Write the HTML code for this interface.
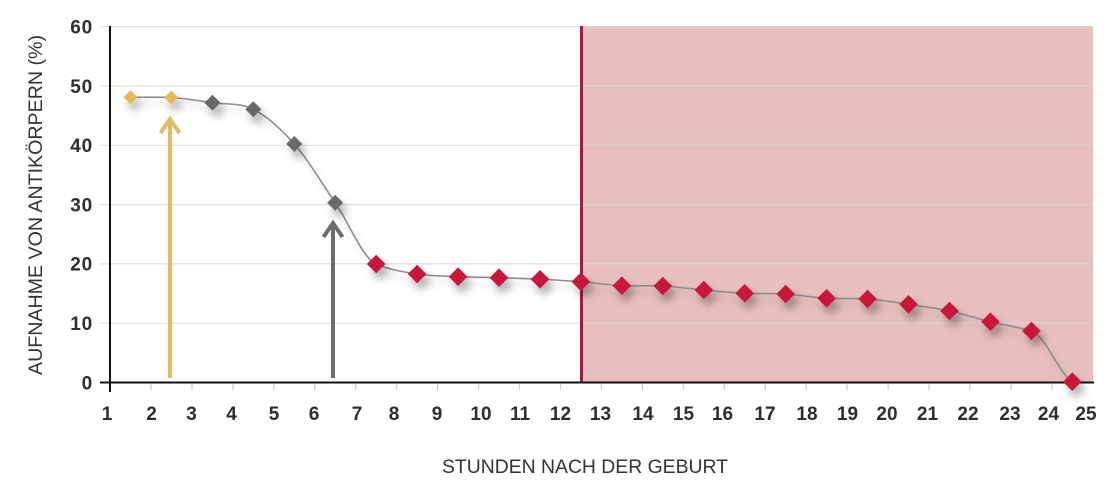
<!DOCTYPE html>
<html>
<head>
<meta charset="utf-8">
<style>
  html, body { margin: 0; padding: 0; background: #ffffff; }
  body { width: 1120px; height: 487px; overflow: hidden; }
  svg { display: block; }
  .tick { font-family: "Liberation Sans", sans-serif; font-weight: bold; font-size: 19px; fill: #2e2e2e; }
  .ytick { letter-spacing: 0.8px; }
  .title { font-family: "Liberation Sans", sans-serif; font-size: 19px; fill: #333333; }
</style>
</head>
<body>
<svg width="1120" height="487" viewBox="0 0 1120 487" xmlns="http://www.w3.org/2000/svg">
  <defs>
    <filter id="sh" x="-60%" y="-60%" width="220%" height="220%">
      <feDropShadow dx="4" dy="7" stdDeviation="4.5" flood-color="#000" flood-opacity="0.32"/>
    </filter>
    <filter id="shl" x="-10%" y="-10%" width="120%" height="130%">
      <feDropShadow dx="3" dy="6" stdDeviation="4" flood-color="#000" flood-opacity="0.18"/>
    </filter>
  </defs>

  <rect x="0" y="0" width="1120" height="487" fill="#ffffff"/>

  <!-- pink zone -->
  <rect x="581" y="26" width="512" height="356.5" fill="#e7c0bd"/>

  <!-- gridlines -->
  <g stroke="#d9d9d9" stroke-width="1.2" opacity="0.8">
    <line x1="100" y1="26.7" x2="1093" y2="26.7"/>
    <line x1="100" y1="86" x2="1093" y2="86"/>
    <line x1="100" y1="145.3" x2="1093" y2="145.3"/>
    <line x1="100" y1="204.6" x2="1093" y2="204.6"/>
    <line x1="100" y1="263.9" x2="1093" y2="263.9"/>
    <line x1="100" y1="323.2" x2="1093" y2="323.2"/>
  </g>

  <!-- x ticks -->
  <g stroke="#cccccc" stroke-width="1.2">
    <line x1="151" y1="384" x2="151" y2="390"/>
    <line x1="192" y1="384" x2="192" y2="390"/>
    <line x1="233" y1="384" x2="233" y2="390"/>
    <line x1="273.8" y1="384" x2="273.8" y2="390"/>
    <line x1="314.8" y1="384" x2="314.8" y2="390"/>
    <line x1="355.7" y1="384" x2="355.7" y2="390"/>
    <line x1="396.7" y1="384" x2="396.7" y2="390"/>
    <line x1="437.6" y1="384" x2="437.6" y2="390"/>
    <line x1="478.6" y1="384" x2="478.6" y2="390"/>
    <line x1="519.5" y1="384" x2="519.5" y2="390"/>
    <line x1="560.5" y1="384" x2="560.5" y2="390"/>
    <line x1="601.4" y1="384" x2="601.4" y2="390"/>
    <line x1="642.4" y1="384" x2="642.4" y2="390"/>
    <line x1="683.3" y1="384" x2="683.3" y2="390"/>
    <line x1="724.3" y1="384" x2="724.3" y2="390"/>
    <line x1="765.2" y1="384" x2="765.2" y2="390"/>
    <line x1="806.2" y1="384" x2="806.2" y2="390"/>
    <line x1="847.1" y1="384" x2="847.1" y2="390"/>
    <line x1="888.1" y1="384" x2="888.1" y2="390"/>
    <line x1="929" y1="384" x2="929" y2="390"/>
    <line x1="970" y1="384" x2="970" y2="390"/>
    <line x1="1010.9" y1="384" x2="1010.9" y2="390"/>
    <line x1="1051.9" y1="384" x2="1051.9" y2="390"/>
  </g>

  <!-- red vertical line -->
  <line x1="581.5" y1="26" x2="581.5" y2="382" stroke="#b0163f" stroke-width="3"/>

  <!-- arrows -->
  <g fill="none" stroke="#e3bb62" stroke-width="4" stroke-linecap="butt">
    <line x1="170" y1="378" x2="170" y2="119"/>
    <polyline points="160.5,133 170,119 179.5,133" stroke-linejoin="miter"/>
  </g>
  <g fill="none" stroke="#6c6c6c" stroke-width="4">
    <line x1="333" y1="378" x2="333" y2="223"/>
    <polyline points="323.5,237 333,223 342.5,237"/>
  </g>

  <!-- data line -->
  <path filter="url(#shl)" fill="none" stroke="#8d8d8d" stroke-width="1.6"
    d="M130.5,97.3
       C144.2,97.3 157.8,97.0 171.4,97.5
       C185.1,98.4 198.8,100.7 212.4,102.7
       C226.1,104.7 239.6,102.4 253.3,109.3
       C267.0,116.2 280.6,128.4 294.3,144
       C308.0,159.6 321.6,182.7 335.2,202.7
       C348.9,222.7 362.5,258 376.2,264
       C389.9,270 403.4,271.9 417.1,274
       C430.8,276.1 444.4,276.1 458.1,276.7
       C471.8,277.3 485.3,277.3 499.0,277.7
       C512.7,278.1 526.3,278.6 540.0,279.3
       C553.7,280.0 567.2,280.6 580.9,281.7
       C594.6,282.8 608.2,285.0 621.9,285.7
       C635.6,286.4 649.1,285.3 662.8,286
       C676.5,286.7 690.1,288.8 703.8,290
       C717.5,291.2 731.0,292.6 744.7,293.3
       C758.4,294.0 772.0,293.2 785.7,294
       C799.4,294.8 812.9,297.5 826.6,298.3
       C840.3,299.1 853.9,298.0 867.6,299
       C881.3,300 894.8,302.3 908.5,304.3
       C922.2,306.3 935.8,308.1 949.5,311
       C963.2,313.9 976.7,318.4 990.4,321.7
       C1004.1,325.0 1017.7,327 1031.4,331
       C1045.1,335 1058.6,373 1072.3,381.7"/>

  <!-- axes -->
  <line x1="110" y1="26" x2="110" y2="392" stroke="#111111" stroke-width="2"/>
  <line x1="100" y1="382.5" x2="1094" y2="382.5" stroke="#111111" stroke-width="2"/>

  <!-- markers -->
  <g filter="url(#sh)">
    <g fill="#e4b85a">
      <polygon points="130.5,90.3 137.5,97.3 130.5,104.3 123.5,97.3"/>
      <polygon points="171.4,90.5 178.4,97.5 171.4,104.5 164.4,97.5"/>
    </g>
    <g fill="#696969">
      <polygon points="212.4,94.7 220.4,102.7 212.4,110.7 204.4,102.7"/>
      <polygon points="253.3,101.3 261.3,109.3 253.3,117.3 245.3,109.3"/>
      <polygon points="294.3,136 302.3,144 294.3,152 286.3,144"/>
      <polygon points="335.2,194.7 343.2,202.7 335.2,210.7 327.2,202.7"/>
    </g>
    <g fill="#c8133c">
      <polygon points="376.2,254.7 385.5,264 376.2,273.3 366.9,264"/>
      <polygon points="417.1,264.7 426.4,274 417.1,283.3 407.8,274"/>
      <polygon points="458.1,267.4 467.4,276.7 458.1,286 448.8,276.7"/>
      <polygon points="499.0,268.4 508.3,277.7 499.0,287 489.7,277.7"/>
      <polygon points="540.0,270 549.3,279.3 540.0,288.6 530.7,279.3"/>
      <polygon points="580.9,272.4 590.2,281.7 580.9,291 571.6,281.7"/>
      <polygon points="621.9,276.4 631.2,285.7 621.9,295 612.6,285.7"/>
      <polygon points="662.8,276.7 672.1,286 662.8,295.3 653.5,286"/>
      <polygon points="703.8,280.7 713.1,290 703.8,299.3 694.5,290"/>
      <polygon points="744.7,284 754,293.3 744.7,302.6 735.4,293.3"/>
      <polygon points="785.7,284.7 795,294 785.7,303.3 776.4,294"/>
      <polygon points="826.6,289 835.9,298.3 826.6,307.6 817.3,298.3"/>
      <polygon points="867.6,289.7 876.9,299 867.6,308.3 858.3,299"/>
      <polygon points="908.5,295 917.8,304.3 908.5,313.6 899.2,304.3"/>
      <polygon points="949.5,301.7 958.8,311 949.5,320.3 940.2,311"/>
      <polygon points="990.4,312.4 999.7,321.7 990.4,331 981.1,321.7"/>
      <polygon points="1031.4,321.7 1040.7,331 1031.4,340.3 1022.1,331"/>
      <polygon points="1072.3,372.4 1081.6,381.7 1072.3,391 1063,381.7"/>
    </g>
  </g>

  <!-- y tick labels -->
  <g class="tick ytick" text-anchor="end">
    <text x="93" y="33.5">60</text>
    <text x="93" y="92.8">50</text>
    <text x="93" y="152.1">40</text>
    <text x="93" y="211.4">30</text>
    <text x="93" y="270.7">20</text>
    <text x="93" y="330">10</text>
    <text x="93" y="389.3">0</text>
  </g>

  <!-- x tick labels -->
  <g class="tick" text-anchor="middle">
    <text x="107" y="420">1</text>
    <text x="151.5" y="420">2</text>
    <text x="191.5" y="420">3</text>
    <text x="231.5" y="420">4</text>
    <text x="274" y="420">5</text>
    <text x="314" y="420">6</text>
    <text x="357" y="420">7</text>
    <text x="394" y="420">8</text>
    <text x="437" y="420">9</text>
    <text x="481" y="420">10</text>
    <text x="520" y="420">11</text>
    <text x="560.5" y="420">12</text>
    <text x="600.5" y="420">13</text>
    <text x="643" y="420">14</text>
    <text x="683.5" y="420">15</text>
    <text x="722.5" y="420">16</text>
    <text x="765" y="420">17</text>
    <text x="807" y="420">18</text>
    <text x="847.5" y="420">19</text>
    <text x="887" y="420">20</text>
    <text x="927.5" y="420">21</text>
    <text x="968" y="420">22</text>
    <text x="1010" y="420">23</text>
    <text x="1048.5" y="420">24</text>
    <text x="1086" y="420">25</text>
  </g>

  <!-- axis titles -->
  <text class="title" x="585" y="473" text-anchor="middle" textLength="286" lengthAdjust="spacingAndGlyphs">STUNDEN NACH DER GEBURT</text>
  <text class="title" transform="translate(42,205) rotate(-90)" x="0" y="0" text-anchor="middle" textLength="340" lengthAdjust="spacingAndGlyphs">AUFNAHME VON ANTIKÖRPERN (%)</text>
</svg>
</body>
</html>
